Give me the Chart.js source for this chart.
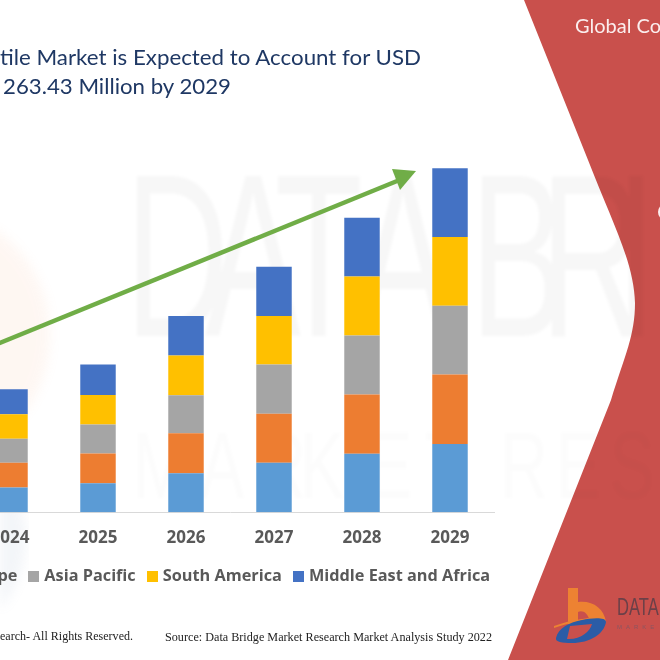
<!DOCTYPE html>
<html><head><meta charset="utf-8">
<style>
html,body{margin:0;padding:0;width:660px;height:660px;overflow:hidden;background:#fff}
#bg{position:absolute;left:0;top:0}
#c{position:absolute;left:-300px;top:0}
</style>
<script src="https://cdn.jsdelivr.net/npm/chart.js@4"></script>
</head><body>
<svg id="bg" width="660" height="660" viewBox="0 0 660 660" xmlns="http://www.w3.org/2000/svg">
  <defs><filter id="b"><feGaussianBlur stdDeviation="1.8"/></filter><filter id="b2"><feGaussianBlur stdDeviation="6"/></filter></defs>
  <ellipse cx="-62" cy="335" rx="112" ry="122" fill="#f8b48c" opacity=".1" filter="url(#b2)"/>
  <path d="M0 470 C28 500 40 560 0 610 Z" fill="#8fa6c4" opacity=".1" filter="url(#b2)"/>
  <path d="M524 0 L588 160 C612 222 634 262 635 303 C635 335 625 355 611 400 L508 660 L660 660 L660 0 Z" fill="#C9504C"/>
  <g filter="url(#b)" fill="#000" font-family="Liberation Sans">
    <g font-size="232" opacity=".03">
      <text transform="translate(125 336) scale(.62 1)">D</text>
      <text transform="translate(205 336) scale(.62 1)">A</text>
      <text transform="translate(275 336) scale(.62 1)">T</text>
      <text transform="translate(355 336) scale(.62 1)">A</text>
      <text transform="translate(470 336) scale(.62 1)">B</text>
      <text transform="translate(540 336) scale(.62 1)">R</text>
      <text transform="translate(616 336) scale(.62 1)">I</text>
    </g>
    <g font-size="95" opacity=".012">
      <text transform="translate(133 498) scale(.7 1)">M</text>
      <text transform="translate(200 498) scale(.7 1)">A</text>
      <text transform="translate(258 498) scale(.7 1)">R</text>
      <text transform="translate(300 498) scale(.7 1)">K</text>
      <text transform="translate(368 498) scale(.7 1)">E</text>
      <text transform="translate(425 498) scale(.7 1)">T</text>
      <text transform="translate(500 498) scale(.7 1)">R</text>
      <text transform="translate(556 498) scale(.7 1)">E</text>
      <text transform="translate(610 498) scale(.7 1)">S</text>
    </g>
  </g>
  <g fill="#1F3864" font-family="Lato" font-size="22">
    <text x="0" y="65" textLength="421" lengthAdjust="spacingAndGlyphs">tile Market is Expected to Account for USD</text>
    <text x="3" y="94" textLength="228" lengthAdjust="spacingAndGlyphs">263.43 Million by 2029</text>
  </g>
  <text x="575" y="33" fill="#fbeeee" font-family="Lato" font-size="20">Global Co</text>
  <ellipse cx="665" cy="212" rx="7" ry="8" fill="#fbeeee"/>
  <line x1="-10" y1="347" x2="402" y2="179" stroke="#70AD47" stroke-width="4.5"/>
  <polygon points="392,169 416,171 400,190" fill="#70AD47"/>
  <g font-family="Liberation Serif" font-size="11.5" fill="#222">
    <text x="0" y="640" textLength="133" lengthAdjust="spacingAndGlyphs">earch- All Rights Reserved.</text>
    <text x="165" y="641" textLength="327" lengthAdjust="spacingAndGlyphs">Source: Data Bridge Market Research Market Analysis Study 2022</text>
  </g>
  <path d="M568 588 L578 588 L578 602 C592 600 604 608 606 622 L590 622 C588 612 582 610 578 612 L578 624 L568 624 Z" fill="#ED8232"/>
  <path d="M554 626 C570 620 590 617 610 617 C594 617 572 622 554 628 Z" fill="#ED8232"/>
  <path d="M556 638 C558 628 570 622 582 620 C592 618 606 617 606 622 C604 634 590 643 572 643 C562 643 555 642 556 638 Z M570 626 L567 639 C580 640 590 632 592 624 Z" fill="#2B5CA6" fill-rule="evenodd"/>
  <text x="617" y="615" font-family="Liberation Sans" font-size="23" fill="#6b4048" transform="translate(617 0) scale(.72 1) translate(-617 0)">DATA</text>
  <text x="617" y="629" font-family="Liberation Sans" font-size="6" fill="#8a5560" letter-spacing="4">MARKE</text>
</svg>
<canvas id="c" width="804" height="660"></canvas>
<script>
const categories = ['2024','2025','2026','2027','2028','2029'];
const seriesNames = ['North America','Europe','Asia Pacific','South America','Middle East and Africa'];
const seriesColors = ['#5B9BD5','#ED7D31','#A5A5A5','#FFC000','#4472C4'];
const northAmerica = [19.0,22.3,30.0,37.9,44.8,52.4];
const europe = [18.9,22.7,30.6,37.5,45.4,53.2];
const asiaPacific = [18.4,22.2,29.1,37.7,45.2,52.6];
const southAmerica = [18.9,22.7,30.3,37.3,45.2,52.6];
const middleEastAfrica = [19.1,23.2,30.4,37.7,44.9,52.6];
const seriesValues = [northAmerica,europe,asiaPacific,southAmerica,middleEastAfrica];

function swatch(col){
  const s=document.createElement('canvas');s.width=11;s.height=11;
  const g=s.getContext('2d');g.fillStyle=col;g.fillRect(0,0,11,11);return s;
}
const legendFont={family:'"Open Sans"',size:16.3,weight:'bold'};
const tickFont={family:'"Open Sans"',size:17,weight:'bold'};
new Chart(document.getElementById('c'),{
  type:'bar',
  data:{labels:categories,datasets:seriesNames.map((n,i)=>({
    label:n,data:seriesValues[i],backgroundColor:seriesColors[i],
    categoryPercentage:1,barPercentage:0.403,borderWidth:0}))},
  options:{
    responsive:false,animation:false,devicePixelRatio:1,
    layout:{padding:{top:120.5,bottom:65.2,left:0,right:0}},
    plugins:{
      title:{display:false},tooltip:{enabled:false},
      legend:{position:'bottom',align:'end',labels:{
        color:'#595959',font:legendFont,usePointStyle:true,pointStyleWidth:5,padding:13.85,
        generateLabels(ch){
          const items=Chart.defaults.plugins.legend.labels.generateLabels(ch);
          items.forEach((it,i)=>{it.pointStyle=swatch(seriesColors[i]);});
          return items;
        }}}
    },
    scales:{
      x:{stacked:true,grid:{display:false,drawTicks:false},border:{color:'#D9D9D9',width:1},
        ticks:{color:'#595959',font:tickFont,padding:15.5,maxRotation:0,autoSkip:false},
        afterFit(s){s.height=42.3;}},
      y:{stacked:true,min:0,max:300,display:true,grid:{display:false,drawTicks:false},border:{display:false},
        ticks:{display:false},afterFit(s){s.width=266;}},
      yr:{position:'right',display:true,grid:{display:false,drawTicks:false},border:{display:false},
        ticks:{display:false},afterFit(s){s.width=10;}}
    }
  }
});
</script>
</body></html>
